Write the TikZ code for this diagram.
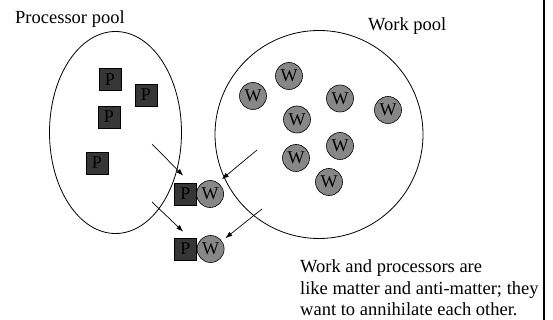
\documentclass[tikz,border=0pt]{standalone}
\usepackage{fontspec}
\setmainfont{Liberation Serif}
\usepackage{xcolor}
\definecolor{PROCfill}{HTML}{363636}
\definecolor{WORKfill}{HTML}{878787}
\usepackage{tikz}
\usetikzlibrary{arrows.meta, positioning}

\begin{document}
\begin{tikzpicture}[x=1pt, y=-1pt,
  procbox/.style={
    rectangle, draw=black, fill=PROCfill, line width=0.6pt,
    minimum size=22pt, inner sep=0pt,
    font=\fontsize{18}{20}\selectfont
  },
  workball/.style={
    circle, draw=black, fill=WORKfill, line width=0.6pt,
    minimum size=27pt, inner sep=0pt,
    font=\fontsize{18}{20}\selectfont
  },
  pool/.style={black, line width=0.8pt},
  grab/.style={-{Latex[length=7pt,width=5pt]}, line width=0.7pt},
  lbl/.style={inner sep=0pt, font=\fontsize{18.5}{21.5}\selectfont}
]
% ── Canvas ──────────────────────────────────────────────────
\useasboundingbox (0,0) rectangle (553,320);
\draw[line width=2.5pt] (543.8,0) -- (543.8,320);

% ── Pools ───────────────────────────────────────────────────
\draw[pool] (115.5,132.5) ellipse [x radius=66, y radius=101];
\draw[pool] (319,134.5) circle [radius=104];
\node[lbl, anchor=base west] (proclbl) at (15,24) {Processor pool};
\node[lbl, anchor=base west] (worklbl) at (368,31) {Work pool};

% ── Idle processors ─────────────────────────────────────────
\node[procbox] (p1) at (110,79.5) {P};
\node[procbox] (p2) at (146,95)   {P};
\node[procbox] (p3) at (109,117)  {P};
\node[procbox] (p4) at (97,163)   {P};

% ── Waiting work ────────────────────────────────────────────
\foreach \n/\x/\y in {w1/253/96, w2/289/76, w3/340/98.5, w4/388/110,
                      w5/297/119.5, w6/340/146, w7/296/158, w8/329/182}{
  \node[workball] (\n) at (\x,\y) {W};
}

% ── Matched pairs ───────────────────────────────────────────
\node[procbox] (pa) at (185.5,194) {P};
\node[workball, right=-0.5pt of pa] (wa) {W};
\node[procbox] (pb) at (185.5,249) {P};
\node[workball, right=0pt of pb] (wb) {W};

% ── Arrows into the pairs ───────────────────────────────────
\coordinate (sa) at (152,144);
\coordinate (sb) at (152,202);
\coordinate (ta) at (257,150);
\coordinate (tb) at (262,209);
\draw[grab] (sa) -- ([shift={(9pt,7pt)}]pa.north west);
\draw[grab] (sb) -- ([shift={(9pt,6pt)}]pb.north west);
\draw[grab] (ta) -- ([shift={(2pt,5pt)}]wa.north east);
\draw[grab] (tb) -- ([shift={(5pt,1pt)}]wb.north east);

% ── Caption ─────────────────────────────────────────────────
\node[lbl, align=left, anchor=north west] (note) at (300,259.5)
  {Work and processors are\\
   like matter and anti-matter; they\\
   want to annihilate each other.};
\end{tikzpicture}
\end{document}
